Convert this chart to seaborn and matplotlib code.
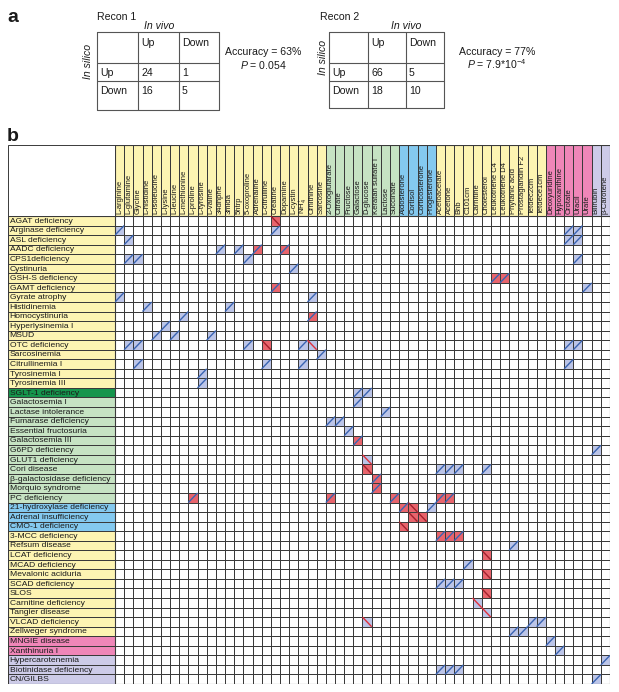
import numpy as np
import pandas as pd
import matplotlib
matplotlib.use("Agg")
import matplotlib.pyplot as plt
import seaborn as sns
from matplotlib.colors import ListedColormap
from matplotlib.patches import Rectangle

sns.set_theme(style="white")
plt.rcParams["font.family"] = ["Liberation Sans", "DejaVu Sans"]
plt.rcParams["mathtext.fontset"] = "custom"
plt.rcParams["mathtext.rm"] = "Liberation Sans"
plt.rcParams["mathtext.it"] = "Liberation Sans:italic"

# ------------------------------------------------------------------ panel a data
recon_titles = ["Recon 1", "Recon 2"]
vivo_labels = ["Up", "Down"]
silico_labels = ["Up", "Down"]
recon1_counts = [[24, 1], [16, 5]]
recon2_counts = [[66, 5], [18, 10]]
recon1_stats = ["Accuracy = 63%", r"$P$ = 0.054"]
recon2_stats = ["Accuracy = 77%", r"$P$ = 7.9*10$^{-4}$"]

# ------------------------------------------------------------------ panel b data
col_amino = ["L-arginine", "L-glutamine", "Glycine", "L-histidine", "L-isoleucine",
             "L-lysine", "L-leucine", "L-methionine", "L-proline", "L-tyrosine",
             "L-valine", "34dhphe", "3mlda", "5htrp", "5-oxoproline", "Adrenaline",
             "L-citrulline", "Creatine", "Dopamine", "L-cystin", "NH4+", "Ornithine",
             "Sarcosine"]
col_sugar = ["2-Oxoglutarate", "Citrate", "Fructose", "Galactose", "D-glucose",
             "Keratan sulfate I", "Lactose", "Succinate"]
col_steroid = ["Aldosterone", "Cortisol", "Corticosterone", "Progesterone"]
col_lipid = ["Acetoacetate", "Acetone", "Bhb", "C101cm", "Carnitine", "Cholesterol",
             "Leukotriene C4", "Leukotriene D4", "Phytanic acid", "Prostaglandin F2",
             "Tetdec2cm", "Tetdece1cm"]
col_nucleo = ["Deoxyuridine", "Hypoxanthine", "Orotate", "Uracil", "Urate"]
col_pigment = ["Bilirubin", "β-Carotene"]

row_amino = ["AGAT deficiency", "Arginase deficiency", "ASL deficiency", "AADC deficiency",
             "CPS1deficiency", "Cystinuria", "GSH-S deficiency", "GAMT deficiency",
             "Gyrate atrophy", "Histidinemia", "Homocystinuria", "Hyperlysinemia I",
             "MSUD", "OTC deficiency", "Sarcosinemia", "Citrullinemia I",
             "Tyrosinemia I", "Tyrosinemia III"]
row_sglt = ["SGLT-1 deficiency"]
row_sugar = ["Galactosemia I", "Lactase intolerance", "Fumarase deficiency",
             "Essential fructosuria", "Galactosemia III", "G6PD deficiency",
             "GLUT1 deficiency", "Cori disease", "β-galactosidase deficiency",
             "Morquio syndrome", "PC deficiency"]
row_steroid = ["21-hydroxylase deficiency", "Adrenal insufficiency", "CMO-1 deficiency"]
row_lipid = ["3-MCC deficiency", "Refsum disease", "LCAT deficiency", "MCAD deficiency",
             "Mevalonic aciduria", "SCAD deficiency", "SLOS", "Carnitine deficiency",
             "Tangier disease", "VLCAD deficiency", "Zellweger syndrome"]
row_nucleo = ["MNGIE disease", "Xanthinuria I"]
row_pigment = ["Hypercarotenemia", "Biotinidase deficiency", "CN/GILBS"]

# in silico up (blue cell) / in vivo up (blue /)
up_up = [
    ("Arginase deficiency", "L-arginine"), ("Arginase deficiency", "Creatine"),
    ("Arginase deficiency", "Orotate"), ("Arginase deficiency", "Uracil"),
    ("ASL deficiency", "L-glutamine"), ("ASL deficiency", "Orotate"), ("ASL deficiency", "Uracil"),
    ("AADC deficiency", "34dhphe"), ("AADC deficiency", "5htrp"),
    ("CPS1deficiency", "L-glutamine"), ("CPS1deficiency", "Glycine"),
    ("CPS1deficiency", "5-oxoproline"), ("CPS1deficiency", "Uracil"),
    ("Cystinuria", "L-cystin"), ("GAMT deficiency", "Urate"),
    ("Gyrate atrophy", "L-arginine"), ("Gyrate atrophy", "Ornithine"),
    ("Histidinemia", "L-histidine"), ("Histidinemia", "3mlda"),
    ("Homocystinuria", "L-methionine"), ("Hyperlysinemia I", "L-lysine"),
    ("MSUD", "L-isoleucine"), ("MSUD", "L-leucine"), ("MSUD", "L-valine"),
    ("OTC deficiency", "L-glutamine"), ("OTC deficiency", "Glycine"),
    ("OTC deficiency", "5-oxoproline"), ("OTC deficiency", "NH4+"),
    ("OTC deficiency", "Orotate"), ("OTC deficiency", "Uracil"),
    ("Sarcosinemia", "Sarcosine"),
    ("Citrullinemia I", "Glycine"), ("Citrullinemia I", "L-citrulline"),
    ("Citrullinemia I", "NH4+"), ("Citrullinemia I", "Orotate"),
    ("Tyrosinemia I", "L-tyrosine"), ("Tyrosinemia III", "L-tyrosine"),
    ("SGLT-1 deficiency", "Galactose"), ("SGLT-1 deficiency", "D-glucose"),
    ("Galactosemia I", "Galactose"), ("Lactase intolerance", "Lactose"),
    ("Fumarase deficiency", "2-Oxoglutarate"), ("Fumarase deficiency", "Citrate"),
    ("Essential fructosuria", "Fructose"), ("G6PD deficiency", "Bilirubin"),
    ("Cori disease", "Acetoacetate"), ("Cori disease", "Acetone"),
    ("Cori disease", "Bhb"), ("Cori disease", "Cholesterol"),
    ("21-hydroxylase deficiency", "Progesterone"), ("Refsum disease", "Phytanic acid"),
    ("MCAD deficiency", "C101cm"),
    ("SCAD deficiency", "Acetoacetate"), ("SCAD deficiency", "Acetone"), ("SCAD deficiency", "Bhb"),
    ("VLCAD deficiency", "Tetdec2cm"), ("VLCAD deficiency", "Tetdece1cm"),
    ("Zellweger syndrome", "Phytanic acid"), ("Zellweger syndrome", "Prostaglandin F2"),
    ("MNGIE disease", "Deoxyuridine"), ("Xanthinuria I", "Hypoxanthine"),
    ("Hypercarotenemia", "β-Carotene"),
    ("Biotinidase deficiency", "Acetoacetate"), ("Biotinidase deficiency", "Acetone"),
    ("Biotinidase deficiency", "Bhb"), ("CN/GILBS", "Bilirubin"),
]
# in silico down (red cell) / in vivo up (blue /)
down_up = [
    ("AADC deficiency", "Adrenaline"), ("AADC deficiency", "Dopamine"),
    ("GSH-S deficiency", "Leukotriene C4"), ("GSH-S deficiency", "Leukotriene D4"),
    ("GAMT deficiency", "Creatine"), ("Homocystinuria", "Ornithine"),
    ("Galactosemia III", "Galactose"), ("β-galactosidase deficiency", "Keratan sulfate I"),
    ("Morquio syndrome", "Keratan sulfate I"), ("PC deficiency", "L-proline"),
    ("PC deficiency", "2-Oxoglutarate"), ("PC deficiency", "Succinate"),
    ("PC deficiency", "Acetoacetate"), ("PC deficiency", "Acetone"),
    ("21-hydroxylase deficiency", "Aldosterone"),
    ("3-MCC deficiency", "Acetoacetate"), ("3-MCC deficiency", "Acetone"),
    ("3-MCC deficiency", "Bhb"),
]
# in silico down (red cell) / in vivo down (red \)
down_down = [
    ("AGAT deficiency", "Creatine"), ("OTC deficiency", "L-citrulline"),
    ("Cori disease", "D-glucose"), ("21-hydroxylase deficiency", "Cortisol"),
    ("Adrenal insufficiency", "Cortisol"), ("Adrenal insufficiency", "Corticosterone"),
    ("CMO-1 deficiency", "Aldosterone"), ("LCAT deficiency", "Cholesterol"),
    ("Mevalonic aciduria", "Cholesterol"), ("SLOS", "Cholesterol"),
]
# in silico up (blue cell) / in vivo down (red \)
up_down = [
    ("OTC deficiency", "Ornithine"), ("GLUT1 deficiency", "D-glucose"),
    ("Carnitine deficiency", "Carnitine"), ("Tangier disease", "Cholesterol"),
    ("VLCAD deficiency", "D-glucose"),
]

# ------------------------------------------------------------------ styling
YELLOW, GREEN, BLUE, PINK, LAV, DKGREEN = "#fdf4b2", "#c6e3c3", "#84c9ef", "#ef86b8", "#cdcbe8", "#15954c"
CELL_BLUE, CELL_RED = "#bcc5e8", "#e8646c"
LINE_BLUE, LINE_RED, LINE_DKRED = "#3a64b2", "#e0303c", "#a3202c"
GRID = "#3a3a3a"
TXT = "#1a1a1a"

col_blocks = [(col_amino, YELLOW), (col_sugar, GREEN), (col_steroid, BLUE),
              (col_lipid, YELLOW), (col_nucleo, PINK), (col_pigment, LAV)]
row_blocks = [(row_amino, YELLOW), (row_sglt, DKGREEN), (row_sugar, GREEN),
              (row_steroid, BLUE), (row_lipid, YELLOW), (row_nucleo, PINK),
              (row_pigment, LAV)]
metabolites = [m for blk, _ in col_blocks for m in blk]
col_color = [c for blk, c in col_blocks for _ in blk]
diseases = [d for blk, _ in row_blocks for d in blk]
row_color = [c for blk, c in row_blocks for _ in blk]
display = {"NH4+": r"NH$_4^+$"}

W, H = 619, 692
fig = plt.figure(figsize=(W / 100, H / 100), dpi=100)


def px_axes(x0, y0, x1, y1):
    return fig.add_axes([x0 / W, 1 - y1 / H, (x1 - x0) / W, (y1 - y0) / H])


# overlay axes for panel a / letters
ov = fig.add_axes([0, 0, 1, 1])
ov.set_xlim(0, W)
ov.set_ylim(H, 0)
ov.axis("off")

ov.text(7, 22, "a", fontsize=14, fontweight="bold", color=TXT)
ov.text(7, 141, "b", fontsize=14, fontweight="bold", color=TXT)


def draw_table(xs, ys, counts, title, stats, title_x, vivo_x, silico_x, silico_y, stat_x):
    for x in xs:
        ov.plot([x, x], [ys[0], ys[-1]], color="#555555", lw=0.8)
    for y in ys:
        ov.plot([xs[0], xs[-1]], [y, y], color="#555555", lw=0.8)
    fs = 7.6
    ov.text(title_x, 20, title, fontsize=fs, color=TXT)
    ov.text(vivo_x, 29, "In vivo", fontsize=fs, style="italic", ha="center", color=TXT)
    ov.text(silico_x, silico_y, "In silico", fontsize=fs, style="italic", rotation=90,
            ha="center", va="center", color=TXT)
    for k, lab in enumerate(vivo_labels):
        ov.text(xs[k + 1] + 3, ys[0] + 13.5, lab, fontsize=fs, color=TXT)
    for r, lab in enumerate(silico_labels):
        ov.text(xs[0] + 3, ys[r + 1] + 12.8, lab, fontsize=fs, color=TXT)
        for k in range(2):
            ov.text(xs[k + 1] + 3, ys[r + 1] + 12.8, str(counts[r][k]), fontsize=fs, color=TXT)
    ov.text(stat_x, 55, stats[0], fontsize=fs, ha="center", color=TXT)
    ov.text(stat_x, 69, stats[1], fontsize=fs, ha="center", color=TXT)


draw_table([97, 138, 179, 219], [32.3, 62.7, 81, 110], recon1_counts, recon_titles[0],
           recon1_stats, 97, 159, 88, 61, 263)
draw_table([329, 368, 406, 444], [32.3, 62.7, 81, 108.3], recon2_counts, recon_titles[1],
           recon2_stats, 320, 406, 323, 57, 497)

# empty top-left box
ov.add_patch(Rectangle((8, 145), 107, 71, fill=False, ec=GRID, lw=0.7))

# ------------------------------------------------------------------ grid
fill = pd.DataFrame(0, index=diseases, columns=metabolites)
for d, m in up_up + up_down:
    fill.loc[d, m] = 1
for d, m in down_up + down_down:
    fill.loc[d, m] = 2

ax_g = px_axes(115, 216, 610, 684)
sns.heatmap(fill, ax=ax_g, cmap=ListedColormap(["white", CELL_BLUE, CELL_RED]),
            vmin=-0.5, vmax=2.5, cbar=False, linewidths=0.55, linecolor=GRID,
            xticklabels=False, yticklabels=False)
ri = {d: i for i, d in enumerate(diseases)}
ci = {m: j for j, m in enumerate(metabolites)}
for pairs, color, up in [(up_up, LINE_BLUE, True), (down_up, LINE_BLUE, True),
                         (down_down, LINE_DKRED, False), (up_down, LINE_RED, False)]:
    for d, m in pairs:
        i, j = ri[d], ci[m]
        if up:
            ax_g.plot([j, j + 1], [i + 1, i], color=color, lw=1.0, solid_capstyle="butt")
        else:
            ax_g.plot([j, j + 1], [i, i + 1], color=color, lw=1.0, solid_capstyle="butt")
ax_g.add_patch(Rectangle((0, 0), len(metabolites), len(diseases), fill=False, ec=GRID, lw=0.8))

# column header
color_list = list(dict.fromkeys(col_color + row_color))
cidx = {c: k for k, c in enumerate(color_list)}
cmap_groups = ListedColormap(color_list)

head = pd.DataFrame([[cidx[c] for c in col_color]], columns=metabolites)
ax_h = px_axes(115, 145, 610, 216)
sns.heatmap(head, ax=ax_h, cmap=cmap_groups, vmin=-0.5, vmax=len(color_list) - 0.5,
            cbar=False, linewidths=0.55, linecolor=GRID, xticklabels=False, yticklabels=False)
for j, m in enumerate(metabolites):
    ax_h.text(j + 0.5, 0.965, display.get(m, m), rotation=90, ha="center", va="bottom",
              fontsize=5.5, color=TXT)
ax_h.add_patch(Rectangle((0, 0), len(metabolites), 1, fill=False, ec=GRID, lw=0.8))

# row labels
rows = pd.DataFrame({"g": [cidx[c] for c in row_color]}, index=diseases)
ax_r = px_axes(8, 216, 115, 684)
sns.heatmap(rows, ax=ax_r, cmap=cmap_groups, vmin=-0.5, vmax=len(color_list) - 0.5,
            cbar=False, linewidths=0.55, linecolor=GRID, xticklabels=False, yticklabels=False)
for i, d in enumerate(diseases):
    ax_r.text(0.015, i + 0.55, d, ha="left", va="center", fontsize=6.1, color=TXT)
ax_r.add_patch(Rectangle((0, 0), 1, len(diseases), fill=False, ec=GRID, lw=0.8))

fig.savefig("out.png", dpi=100)
